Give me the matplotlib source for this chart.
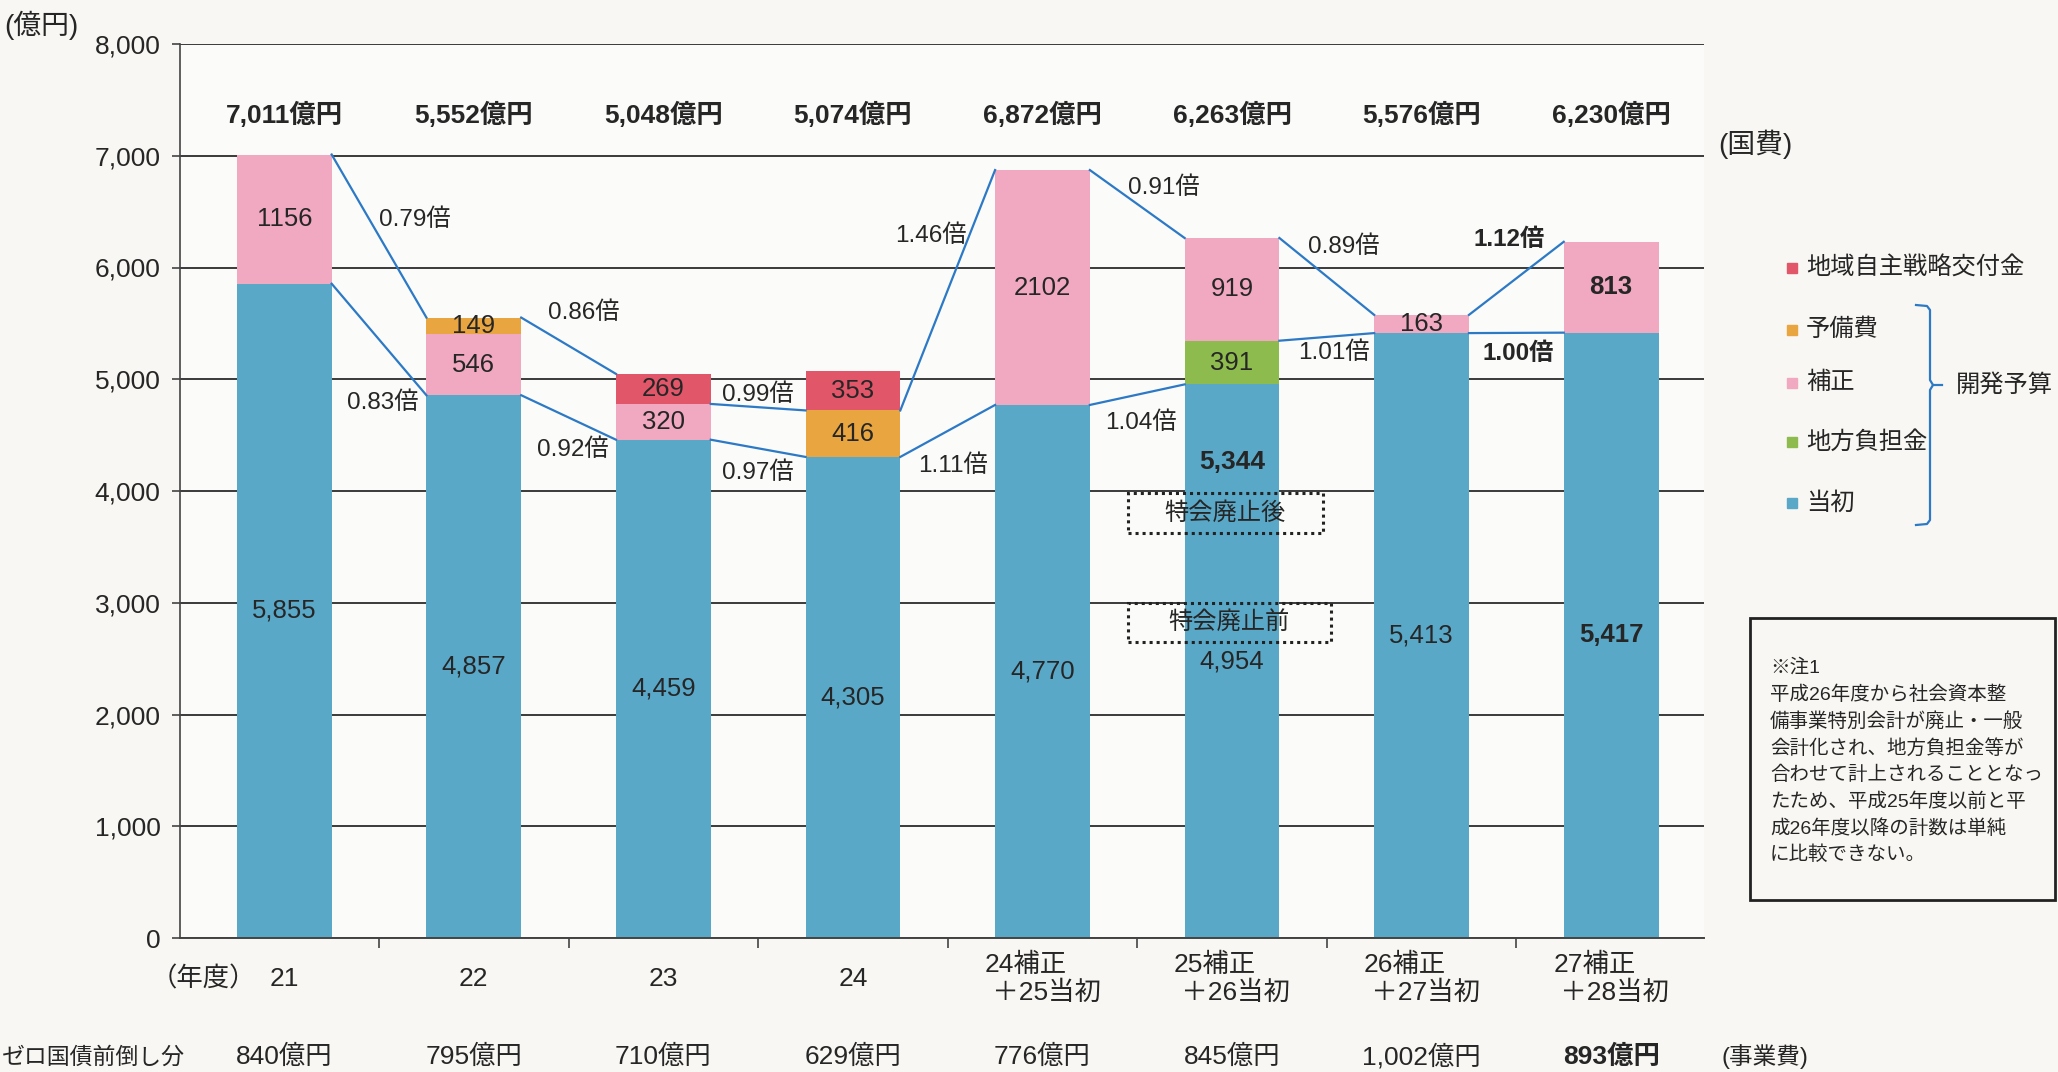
import numpy as np
import matplotlib
matplotlib.use('Agg')
import matplotlib.pyplot as plt
from matplotlib.patches import Rectangle
from matplotlib.lines import Line2D
from matplotlib import font_manager

plt.rcParams['font.family'] = ['Liberation Sans', 'Noto Sans CJK JP']
names = {f.name for f in font_manager.fontManager.ttflist}
narrow = 'Liberation Sans Narrow' if 'Liberation Sans Narrow' in names else 'Liberation Sans'

# データ (億円)
categories = ['21', '22', '23', '24', '24補正\n ＋25当初', '25補正\n ＋26当初',
              '26補正\n ＋27当初', '27補正\n ＋28当初']
tousho = [5855, 4857, 4459, 4305, 4770, 4954, 5413, 5417]
chiho = [0, 0, 0, 0, 0, 391, 0, 0]
hosei = [1156, 546, 320, 0, 2102, 919, 163, 813]
yobi = [0, 149, 0, 416, 0, 0, 0, 0]
chiiki = [0, 0, 269, 353, 0, 0, 0, 0]
total_labels = ['7,011億円', '5,552億円', '5,048億円', '5,074億円',
                '6,872億円', '6,263億円', '5,576億円', '6,230億円']
zero_labels = ['840億円', '795億円', '710億円', '629億円',
               '776億円', '845億円', '1,002億円', '893億円']
ratio_upper = ['0.79倍', '0.86倍', '0.99倍', '1.46倍', '0.91倍', '0.89倍', '1.12倍']
ratio_lower = ['0.83倍', '0.92倍', '0.97倍', '1.11倍', '1.04倍', '1.01倍', '1.00倍']
after_label = '5,344'

# 配置
upper_pos = [(0.69, 6425), (1.58, 5593), (2.50, 4859), (3.41, 6282),
             (4.64, 6711), (5.59, 6184), (6.46, 6255)]
lower_pos = [(0.52, 4787), (1.52, 4367), (2.50, 4161), (3.53, 4224),
             (4.52, 4609), (5.54, 5235), (6.51, 5226)]

c_blue = '#5aa8c8'
c_green = '#8ebb4e'
c_pink = '#f0a9c0'
c_orange = '#e9a640'
c_red = '#e2566a'
c_line = '#2c79c6'
txt = '#262626'

layers = [('当初', tousho, c_blue), ('地方負担金', chiho, c_green), ('補正', hosei, c_pink),
          ('予備費', yobi, c_orange), ('地域自主戦略交付金', chiiki, c_red)]

W, H = 2058, 1072
fig = plt.figure(figsize=(W / 100, H / 100), dpi=100, facecolor='#f8f7f3')
ax = fig.add_axes([180 / W, 1 - 938 / H, (1704 - 180) / W, (938 - 44) / H])
ax.set_facecolor('#fbfbf9')


def ypx(y):
    return (938 - y) / 894 * 8000


def fx(x):
    return x / W


def fy(y):
    return 1 - y / H


x = np.arange(len(categories))
bw = 0.5
bottom = np.zeros(len(x))
for name, vals, col in layers:
    vals = np.array(vals, dtype=float)
    ax.bar(x, vals, bw, bottom=bottom, color=col, zorder=2, linewidth=0)
    for i, v in enumerate(vals):
        if v <= 0:
            continue
        if name == '当初':
            s, yy = f'{int(v):,}', v / 2
        else:
            s, yy = str(int(v)), bottom[i] + v / 2
        ax.text(i, yy, s, ha='center', va='center', fontsize=18.5, color=txt, zorder=5,
                fontweight='bold' if i == 7 else 'normal')
    bottom += vals

tousho_a = np.array(tousho)
base_top = tousho_a + np.array(chiho)
tot = bottom
ex = tot - np.array(chiiki)

# 倍率の線
up_start = [tot[0], tot[1], ex[2], ex[3], tot[4], tot[5], tot[6]]
up_end = [tot[1], tot[2], ex[3], tot[4], tot[5], tot[6], tot[7]]
lo_start = base_top[:-1]
lo_end = tousho_a[1:]
for i in range(len(x) - 1):
    ax.plot([i + bw / 2, i + 1 - bw / 2], [up_start[i], up_end[i]], color=c_line, lw=1.6, zorder=3)
    ax.plot([i + bw / 2, i + 1 - bw / 2], [lo_start[i], lo_end[i]], color=c_line, lw=1.6, zorder=3)

for i, (s, (px, py)) in enumerate(zip(ratio_upper, upper_pos)):
    ax.text(px, py, s, ha='center', va='center', fontsize=17.5, color=txt, zorder=5,
            fontweight='bold' if i == 6 else 'normal')
for i, (s, (px, py)) in enumerate(zip(ratio_lower, lower_pos)):
    ax.text(px, py, s, ha='center', va='center', fontsize=17.5, color=txt, zorder=5,
            fontweight='bold' if i == 6 else 'normal')

# 合計
for i, s in enumerate(total_labels):
    ax.text(i, ypx(115), s, ha='center', va='center', fontsize=19, fontweight='bold', color=txt)

# 特会廃止
ax.text(5, ypx(462), after_label, ha='center', va='center', fontsize=19, fontweight='bold',
        color=txt, zorder=5)
for (y0, y1, x1, s) in [(533, 493, 5.48, '特会廃止後'), (642, 603, 5.52, '特会廃止前')]:
    ax.add_patch(Rectangle((4.45, ypx(y0)), x1 - 4.45, ypx(y1) - ypx(y0), fill=False,
                           edgecolor='#222222', lw=2.2, linestyle=(0, (1, 1.3)), zorder=4))
    ax.text((4.45 + x1) / 2, ypx((y0 + y1) / 2), s, ha='center', va='center', fontsize=17.5,
            color=txt, zorder=5)

# 軸
ax.set_xlim(-0.55, 7.49)
ax.set_ylim(0, 8000)
ax.set_yticks(np.arange(0, 8001, 1000))
ax.set_yticklabels([f'{v:,}' for v in range(0, 8001, 1000)], fontsize=19, color=txt,
                   fontfamily=narrow)
ax.tick_params(axis='y', length=6, width=1.2, color='#444444', pad=8)
ax.set_xticks([])
ax.set_xticks(np.arange(0.5, 7, 1), minor=True)
ax.tick_params(axis='x', which='minor', length=7, width=1.2, color='#444444', direction='out')
ax.yaxis.grid(True, color='#3a3a3a', lw=1.4)
ax.set_axisbelow(True)
for side in ['top', 'right']:
    ax.spines[side].set_visible(False)
ax.spines['left'].set_color('#444444')
ax.spines['left'].set_linewidth(1.2)
ax.spines['bottom'].set_color('#444444')
ax.spines['bottom'].set_linewidth(1.4)

for i, s in enumerate(categories):
    ax.text(i, ypx(979), s, ha='center', va='center', fontsize=19, color=txt,
            multialignment='left', linespacing=1.15)
for i, s in enumerate(zero_labels):
    ax.text(i, ypx(1057), s, ha='center', va='center', fontsize=19, color=txt,
            fontweight='bold' if i == 7 else 'normal')

fig.text(fx(4), fy(25), '(億円)', ha='left', va='center', fontsize=20, color=txt)
fig.text(fx(203), fy(979), '（年度）', ha='center', va='center', fontsize=19, color=txt)
fig.text(fx(2), fy(1057), 'ゼロ国債前倒し分', ha='left', va='center', fontsize=16.5, color=txt)
fig.text(fx(1765), fy(1057), '(事業費)', ha='center', va='center', fontsize=17, color=txt)
fig.text(fx(1718), fy(144), '(国費)', ha='left', va='center', fontsize=20, color=txt)

# 凡例
leg_y = [268, 330, 383, 442, 503]
leg_items = [('地域自主戦略交付金', c_red), ('予備費', c_orange), ('補正', c_pink),
             ('地方負担金', c_green), ('当初', c_blue)]
for (s, col), yy in zip(leg_items, leg_y):
    fig.patches.append(Rectangle((fx(1787), fy(yy + 5)), 10 / W, 10 / H, color=col,
                                 transform=fig.transFigure, figure=fig))
    fig.text(fx(1806), fy(yy), s, ha='left', va='center', fontsize=17.5, color=txt)

br_top = [(1916, 305), (1927, 306), (1930, 310), (1930, 380), (1933, 385), (1942, 385)]
br_bot = [(1933, 385), (1930, 390), (1930, 520), (1927, 524), (1916, 525)]
for pts in (br_top, br_bot):
    fig.add_artist(Line2D([fx(p[0]) for p in pts], [fy(p[1]) for p in pts], color=c_line,
                          lw=1.6, transform=fig.transFigure))
fig.text(fx(1956), fy(385), '開発予算', ha='left', va='center', fontsize=17.5, color=txt)

# 注記
fig.patches.append(Rectangle((fx(1750), fy(900)), (2055 - 1750) / W, (900 - 618) / H,
                             fill=False, edgecolor='#222222', lw=2, transform=fig.transFigure,
                             figure=fig))
note_lines = ['※注1', '平成26年度から社会資本整', '備事業特別会計が廃止・一般',
              '会計化され、地方負担金等が', '合わせて計上されることとなっ',
              'たため、平成25年度以前と平', '成26年度以降の計数は単純', 'に比較できない。']
for k, s in enumerate(note_lines):
    fig.text(fx(1770), fy(668 + 26.7 * k), s, ha='left', va='center', fontsize=14, color=txt)

fig.savefig('out.png', dpi=100, facecolor=fig.get_facecolor())
